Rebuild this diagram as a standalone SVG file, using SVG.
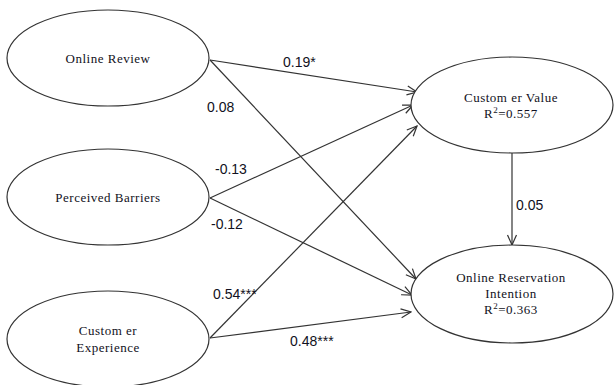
<svg xmlns="http://www.w3.org/2000/svg" width="614" height="385" viewBox="0 0 614 385">
  <style>
    .node ellipse { fill: #ffffff; stroke: #333333; stroke-width: 1.2; }
    .node text { font-family: "Liberation Serif", "Times New Roman", serif; font-size: 13px; fill: #111122; text-anchor: middle; letter-spacing: 0.5px; }
    .edge { stroke: #333333; stroke-width: 1.2; fill: none; marker-end: url(#arrow); }
    .coef { font-family: "Liberation Sans", Arial, sans-serif; font-size: 14px; fill: #111122; }
  </style>
  <defs>
    <marker id="arrow" markerUnits="userSpaceOnUse" markerWidth="12" markerHeight="12" viewBox="0 0 12 10" refX="11" refY="5" orient="auto">
      <path d="M1,0.5 L11,5 L1,9.5" fill="none" stroke="#333333" stroke-width="1.2"/>
    </marker>
  </defs>
  <rect width="614" height="385" fill="#ffffff"/>

  <!-- connectors -->
  <g id="connectors">
    <line class="edge" x1="210" y1="60" x2="417" y2="92"/>
    <line class="edge" x1="210" y1="60" x2="416" y2="279"/>
    <line class="edge" x1="210" y1="198" x2="413" y2="105"/>
    <line class="edge" x1="210" y1="198" x2="412" y2="295"/>
    <line class="edge" x1="210" y1="338" x2="417" y2="126"/>
    <line class="edge" x1="210" y1="338" x2="411" y2="312"/>
    <line class="edge" x1="512" y1="153" x2="512" y2="245"/>
    <text class="coef" x="283" y="67">0.19*</text>
    <text class="coef" x="207" y="112">0.08</text>
    <text class="coef" x="215" y="174">-0.13</text>
    <text class="coef" x="211" y="229">-0.12</text>
    <text class="coef" x="213" y="299">0.54***</text>
    <text class="coef" x="290" y="346">0.48***</text>
    <text class="coef" x="516" y="210">0.05</text>
  </g>

  <g id="online-review" class="node">
    <ellipse cx="108" cy="58" rx="101" ry="48"/>
    <text x="108" y="63">Online Review</text>
  </g>

  <g id="perceived-barriers" class="node">
    <ellipse cx="108" cy="197" rx="101" ry="48"/>
    <text x="108" y="202">Perceived Barriers</text>
  </g>

  <g id="customer-experience" class="node">
    <ellipse cx="108" cy="339" rx="101" ry="48"/>
    <text x="108" y="335">Custom er</text>
    <text x="108" y="352">Experience</text>
  </g>

  <g id="customer-value" class="node">
    <ellipse cx="512" cy="105" rx="101" ry="48"/>
    <text x="511" y="102">Custom er Value</text>
    <text x="511" y="118">R<tspan font-size="9" dy="-5">2</tspan><tspan dy="5">=0.557</tspan></text>
  </g>

  <g id="online-reservation-intention" class="node">
    <ellipse cx="512" cy="294" rx="101" ry="49"/>
    <text x="511" y="282">Online Reservation</text>
    <text x="511" y="298">Intention</text>
    <text x="511" y="314">R<tspan font-size="9" dy="-5">2</tspan><tspan dy="5">=0.363</tspan></text>
  </g>
</svg>
